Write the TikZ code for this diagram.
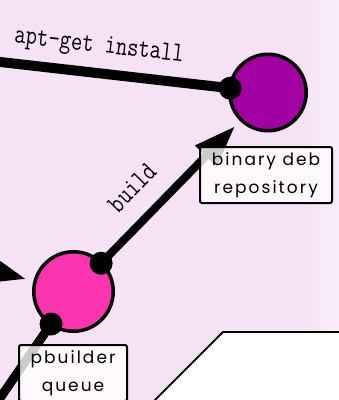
\documentclass[tikz,border=0pt]{standalone}
\usepackage{fontspec}
\usetikzlibrary{arrows.meta,calc}
\newfontfamily\boxfont[LetterSpace=12]{Poppins}
\definecolor{bgc}{RGB}{245,226,245}
\definecolor{bgl}{RGB}{249,236,249}
\definecolor{purp}{RGB}{162,0,162}
\definecolor{pinkc}{RGB}{252,52,176}
\tikzset{
  ball/.style={circle, draw=black, line width=3.5pt, inner sep=0pt},
  conn/.style={line width=9pt, draw=black},
  bigtip/.style={-{Triangle[length=42pt,width=28pt]}},
  lbl/.style={inner sep=0pt, font=\ttfamily\fontsize{22}{22}\selectfont},
  infobox/.style={draw=black, line width=2pt, fill=white, fill opacity=0.8, text opacity=1,
    rounded corners=2pt, align=center, inner sep=0pt,
    font=\boxfont\fontsize{17}{28}\selectfont},
  dotc/.style={fill=black}
}
\begin{document}
\begin{tikzpicture}[x=1pt,y=-1pt]
\useasboundingbox (0,0) rectangle (339,400);
\clip (0,0) rectangle (339,400);
\fill[bgc] (0,0) rectangle (339,400);
\shade[left color=bgc, right color=bgl] (300,0) rectangle (339,400);
% white panel bottom right
\draw[fill=white, line width=1.8pt] (120,435) -- (223,332) -- (360,332) -- (360,435) -- cycle;

\node[ball, fill=purp, minimum size=76.5pt] (bin) at (268,92.5) {};
\node[ball, fill=pinkc, minimum size=79.5pt] (queue) at (73.5,291.5) {};

\coordinate (user) at (-40,57.4);
\coordinate (src) at (-51.4,258.7);
\coordinate (down) at (-22,430);

% connectors
\draw[conn, line width=10pt] (user) -- (bin);
\draw[conn, line width=8pt, bigtip, shorten >=7pt] (queue) -- (bin);
\draw[conn, bigtip, shorten >=7pt] (src) -- (queue);
\draw[conn] (queue) -- (down);

% dots
\coordinate (d1) at ($(bin.center)!38pt!(user)$);
\coordinate (d2) at ($(queue.center)!39.5pt!(bin.center)$);
\coordinate (d3) at ($(queue.center)!39.5pt!(down)$);
\fill[dotc] (d1) circle (11.5pt);
\fill[dotc] (d2) circle (11.5pt);
\fill[dotc] (d3) circle (11.5pt);

% labels
\node[lbl, rotate=-6.5] (l1) at (99,47) {\scalebox{1}[1.25]{apt-get install}};
\node[lbl, rotate=45.6] (l2) at (132,188) {\scalebox{1}[1.25]{build}};

% boxes
\node[infobox, minimum width=132pt, minimum height=56pt] (binlbl) at (266,175) {binary deb\\repository};
\node[infobox, minimum width=108pt, minimum height=56pt] (qlbl) at (73,373) {pbuilder\\queue};
\end{tikzpicture}
\end{document}
